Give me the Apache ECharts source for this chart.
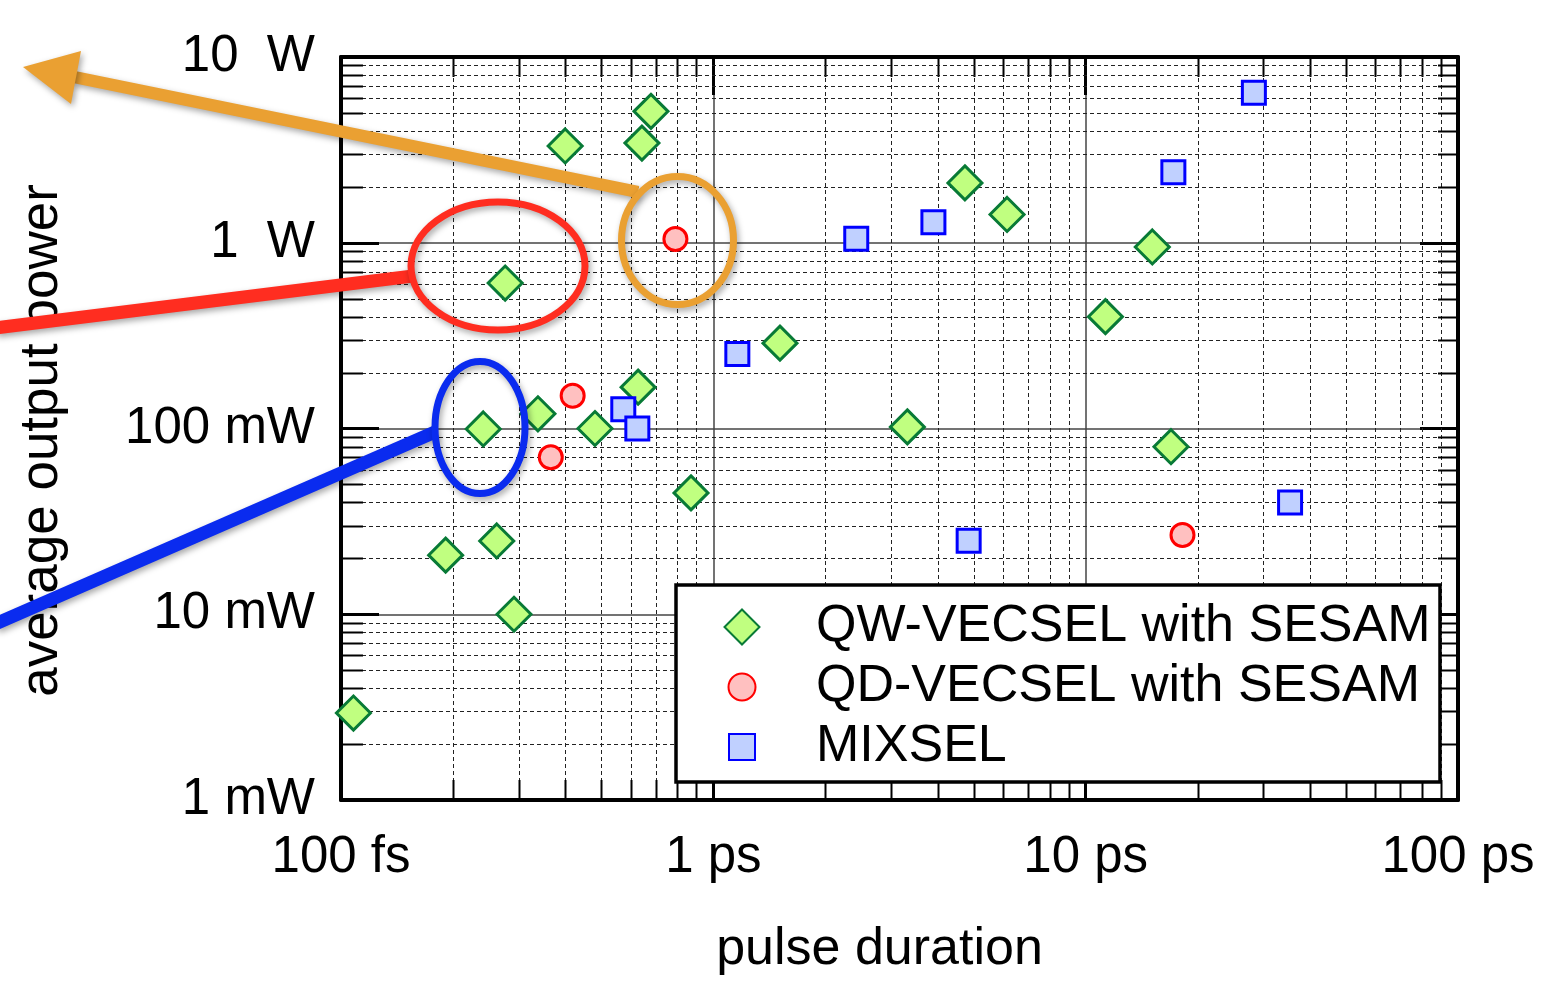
<!DOCTYPE html>
<html><head><meta charset="utf-8">
<script src="https://cdn.jsdelivr.net/npm/echarts@6/dist/echarts.min.js"></script>
<style>html,body{margin:0;padding:0;background:#fff}#c{width:1546px;height:982px}</style>
</head><body><div id="c"></div>
<script>
// ---- data ----
const xTickLabels = ['100 fs', '1 ps', '10 ps', '100 ps'];
const yTickLabels = ['1 mW', '10 mW', '100 mW', '1  W', '10  W'];
const seriesNames = ['QW-VECSEL with SESAM', 'QD-VECSEL with SESAM', 'MIXSEL'];
// [pulse duration (ps), average output power (W)]
const qwVecsel = [[0.68, 5.1], [0.40, 3.32], [0.643, 3.44], [0.276, 0.607], [0.241, 0.0994],
  [0.338, 0.12], [0.481, 0.1], [0.628, 0.167], [0.871, 0.045], [0.191, 0.0208],
  [0.262, 0.0248], [0.2915, 0.01], [0.108, 0.00294], [1.51, 0.288], [3.32, 0.102],
  [4.74, 2.1], [6.15, 1.42], [15.1, 0.949], [11.3, 0.40], [16.95, 0.0798]];
const qdVecsel = [[0.791, 1.047], [0.419, 0.150], [0.366, 0.070], [18.2, 0.0267]];
const mixsel = [[28.3, 6.42], [17.2, 2.40], [3.90, 1.29], [2.42, 1.05], [1.16, 0.252],
  [0.573, 0.127], [0.625, 0.100], [4.85, 0.0249], [35.4, 0.0399]];
const xMinorTicks = [0.2, 0.3, 0.4, 0.5, 0.6, 0.7, 0.8, 0.9, 2, 3, 4, 5, 6, 7, 8, 9,
  20, 30, 40, 50, 60, 70, 80, 90];
const yMinorTicks = [0.002, 0.003, 0.004, 0.005, 0.006, 0.007, 0.008, 0.009,
  0.02, 0.03, 0.04, 0.05, 0.06, 0.07, 0.08, 0.09, 0.2, 0.3, 0.4, 0.5, 0.6, 0.7, 0.8, 0.9,
  2, 3, 4, 5, 6, 7, 8, 9];

const FONT = '"Liberation Sans", Arial, Helvetica, sans-serif';
const MAJ = 38, MIN = 20;

function renderXMinor(params, api) {
  const cs = params.coordSys;
  const x = Math.round(api.coord([api.value(0), api.value(1)])[0]) + 0.5;
  const top = cs.y, bottom = cs.y + cs.height;
  return {type: 'group', children: [
    {type: 'line', shape: {x1: x, y1: top, x2: x, y2: bottom}, style: {stroke: '#222', lineWidth: 1, lineDash: [4, 3]}},
    {type: 'line', shape: {x1: x, y1: bottom, x2: x, y2: bottom - MIN}, style: {stroke: '#000', lineWidth: 2}},
    {type: 'line', shape: {x1: x, y1: top, x2: x, y2: top + MIN}, style: {stroke: '#000', lineWidth: 2}}
  ]};
}
function renderYMinor(params, api) {
  const cs = params.coordSys;
  const y = Math.round(api.coord([api.value(0), api.value(1)])[1]) + 0.5;
  const left = cs.x, right = cs.x + cs.width;
  return {type: 'group', children: [
    {type: 'line', shape: {x1: left, y1: y, x2: right, y2: y}, style: {stroke: '#222', lineWidth: 1, lineDash: [4, 3]}},
    {type: 'line', shape: {x1: left, y1: y, x2: left + MIN + 2, y2: y}, style: {stroke: '#000', lineWidth: 2}},
    {type: 'line', shape: {x1: right, y1: y, x2: right - MIN, y2: y}, style: {stroke: '#000', lineWidth: 2}}
  ]};
}

const axisCommon = {
  type: 'log', logBase: 10,
  axisLine: {show: true, lineStyle: {color: '#000', width: 4}},
  axisTick: {show: true, inside: true, length: MAJ, lineStyle: {color: '#000', width: 3}},
  minorTick: {show: false}
};

const chart = echarts.init(document.getElementById('c'));
const shadow = {shadowBlur: 6, shadowColor: 'rgba(0,0,0,0.35)', shadowOffsetX: 2, shadowOffsetY: 3};

const legendRows = [601, 661, 721];
const legendSizes = [35, 27, 26];
const legendCx = 741, legendTextX = 815;

chart.setOption({
  animation: false,
  grid: {left: 341, right: 88, top: 57, bottom: 182, containLabel: false},
  xAxis: [
    Object.assign({}, axisCommon, {
      position: 'bottom', min: 0.1, max: 100,
      name: 'pulse duration', nameLocation: 'middle', nameGap: 124,
      nameTextStyle: {fontSize: 52, fontFamily: FONT, color: '#000', padding: [0, 40, 0, 0]},
      axisLabel: {show: true, margin: 32, fontSize: 51, fontFamily: FONT, color: '#000',
        formatter: v => xTickLabels[Math.round(Math.log10(v)) + 1] || ''},
      splitLine: {show: true, lineStyle: {color: '#444', width: 1.5, type: 'solid'}}
    }),
    Object.assign({}, axisCommon, {
      position: 'top', min: 0.1, max: 100,
      axisLabel: {show: false}, splitLine: {show: false}
    })
  ],
  yAxis: [
    Object.assign({}, axisCommon, {
      position: 'left', min: 0.001, max: 10,
      name: 'average output power', nameLocation: 'middle', nameGap: 272, nameRotate: 90,
      nameTextStyle: {fontSize: 53, fontFamily: FONT, color: '#000', padding: [0, 24, 0, 0]},
      axisLabel: {show: true, margin: 26, fontSize: 51, fontFamily: FONT, color: '#000',
        formatter: v => yTickLabels[Math.round(Math.log10(v)) + 3] || ''},
      splitLine: {show: true, lineStyle: {color: '#444', width: 1.5, type: 'solid'}}
    }),
    Object.assign({}, axisCommon, {
      position: 'right', min: 0.001, max: 10,
      axisLabel: {show: false}, splitLine: {show: false}
    })
  ],
  legend: seriesNames.map((n, i) => ({
    data: [n], orient: 'vertical', selectedMode: false,
    left: legendCx - legendSizes[i] / 2, top: legendRows[i],
    itemWidth: legendSizes[i], itemHeight: legendSizes[i], padding: 0, itemGap: 0, z: 60,
    textStyle: {fontSize: 52, fontFamily: FONT, color: '#000',
      padding: [0, 0, 0, legendTextX - (legendCx - legendSizes[i] / 2) - legendSizes[i] - 5]}
  })),
  graphic: [
    {type: 'rect', z: 50, shape: {x: 676, y: 585, width: 764, height: 197},
      style: {fill: '#fff', stroke: '#000', lineWidth: 3.5}},
    // annotations
    {type: 'line', z: 100, shape: {x1: 638, y1: 192, x2: 74, y2: 77}, style: Object.assign({stroke: '#EAA032', lineWidth: 12}, shadow)},
    {type: 'polygon', z: 100, shape: {points: [[23, 67], [81, 51], [71, 104]]}, style: Object.assign({fill: '#EAA032'}, shadow)},
    {type: 'ellipse', z: 100, shape: {cx: 677.5, cy: 240.5, rx: 56, ry: 64}, style: Object.assign({fill: 'none', stroke: '#EAA032', lineWidth: 7}, shadow)},
    {type: 'line', z: 100, shape: {x1: -5, y1: 328, x2: 413, y2: 276}, style: Object.assign({stroke: '#FF2D20', lineWidth: 13}, shadow)},
    {type: 'ellipse', z: 100, shape: {cx: 498, cy: 266, rx: 87, ry: 64}, style: Object.assign({fill: 'none', stroke: '#FF2D20', lineWidth: 7}, shadow)},
    {type: 'line', z: 100, shape: {x1: -5, y1: 624, x2: 435, y2: 432}, style: Object.assign({stroke: '#0A2BEF', lineWidth: 13}, shadow)},
    {type: 'ellipse', z: 100, shape: {cx: 480, cy: 427.5, rx: 45, ry: 66}, style: Object.assign({fill: 'none', stroke: '#0A2BEF', lineWidth: 7}, shadow)}
  ],
  series: [
    {type: 'custom', name: 'xminor', silent: true, z: 1, renderItem: renderXMinor,
      data: xMinorTicks.map(v => [v, 1]), encode: {x: 0, y: 1}},
    {type: 'custom', name: 'yminor', silent: true, z: 1, renderItem: renderYMinor,
      data: yMinorTicks.map(v => [1, v]), encode: {x: 0, y: 1}},
    {type: 'scatter', name: seriesNames[0], data: qwVecsel, symbol: 'diamond', symbolSize: 34, z: 5,
      itemStyle: {color: '#C0FF80', borderColor: '#087A36', borderWidth: 3, opacity: 1}},
    {type: 'scatter', name: seriesNames[1], data: qdVecsel, symbol: 'circle', symbolSize: 23, z: 5,
      itemStyle: {color: '#FFC0C0', borderColor: '#FF0000', borderWidth: 3, opacity: 1}},
    {type: 'scatter', name: seriesNames[2], data: mixsel, symbol: 'rect', symbolSize: 23, z: 5,
      itemStyle: {color: '#C0D0FF', borderColor: '#0000FF', borderWidth: 3, opacity: 1}}
  ]
});
</script></body></html>
